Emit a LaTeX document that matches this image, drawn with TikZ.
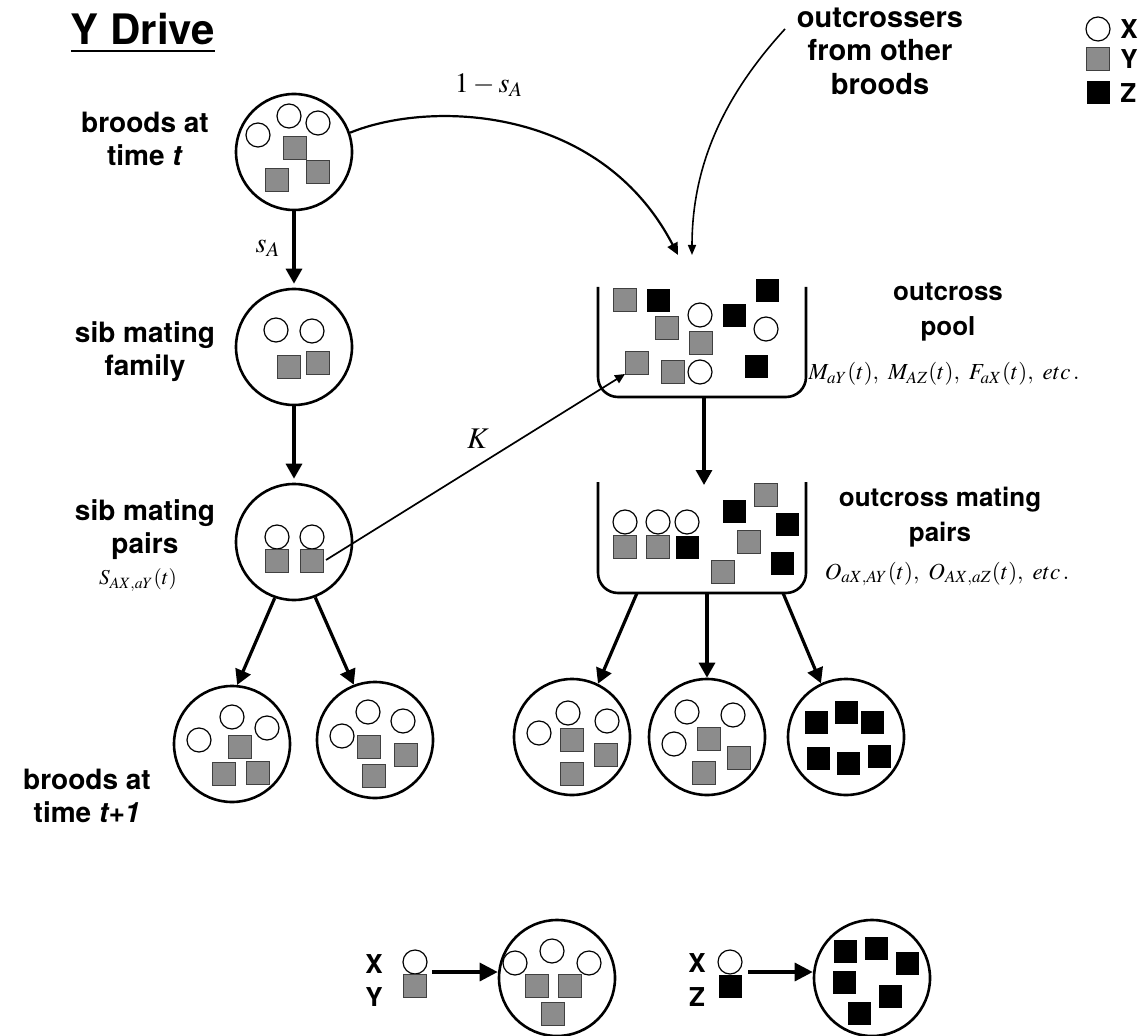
\documentclass[tikz,border=0pt]{standalone}
\usepackage{mathptmx}
\usepackage[no-math]{fontspec}
\setmainfont{TeX Gyre Heros}
\usetikzlibrary{arrows.meta}

% allele glyphs
\newcommand{\allX}[2]{\draw[line width=0.6pt] (#1,#2) circle (6pt);}
\newcommand{\allY}[2]{\draw[line width=0.5pt,draw=black!75,fill=black!45] (#1-11.5,#2-11.5) rectangle (#1+11.5,#2+11.5);}
\newcommand{\allZ}[2]{\fill (#1-11.5,#2-11.5) rectangle (#1+11.5,#2+11.5);}

\tikzset{
  brood/.style={circle,draw,line width=1.3pt,minimum size=58pt,inner sep=0pt},
  lab/.style={font=\fontsize{14}{16.5}\selectfont\bfseries,align=center},
  rlab/.style={font=\fontsize{13}{17.5}\selectfont\bfseries,align=center},
  mlab/.style={font=\fontsize{11.5}{14}\selectfont},
  big/.style={line width=1.6pt,-{Triangle[length=7.5pt,width=8pt]}},
  karrow/.style={line width=0.85pt,-{Triangle[length=5pt,width=4.5pt]}},
  arcarrow/.style={line width=1.1pt,-{Triangle[length=6pt,width=5.5pt]}},
  ocarrow/.style={line width=0.8pt,-{Triangle[length=5pt,width=4pt]}}
}

\begin{document}
\begin{tikzpicture}[x=0.5pt,y=-0.5pt]
\useasboundingbox (0,0) rectangle (1143,1036);

\node[anchor=base,inner sep=0pt,font=\fontsize{21}{24}\selectfont\bfseries] (title) at (143,45) {\underline{Y Drive}};

% left column
\node[brood] (b0) at (294,152) {};
\allX{258}{135} \allX{289}{116} \allX{318}{123}
\allY{295}{148} \allY{318}{172} \allY{277}{180}
\node[lab] (lb0) at (145,139) {broods at\\time \textit{t}};

\node[brood] (fam) at (294,347) {};
\allX{276}{330} \allX{312}{331}
\allY{289}{367} \allY{318}{363}
\node[lab] (lfam) at (145,352) {sib mating\\family};

\node[brood] (sp) at (294,542) {};
\allX{277}{537} \allX{312}{537}
\allY{277}{561} \allY{312}{561}
\node[lab] (lsp) at (145,530) {sib mating\\pairs};
\node[mlab,font=\fontsize{10.6}{12}\selectfont] (ssp) at (138,580) {$S_{AX,aY}(t)$};

\draw[big,shorten >=2pt] (b0) -- (fam);
\node[mlab,font=\fontsize{14}{16}\selectfont] (sa) at (268,248) {$s_A$};
\draw[big,shorten >=2pt] (fam) -- (sp);

% outcross pool
\draw[line width=1.3pt,rounded corners=10pt] (598,287) -- (598,397) -- (806,397) -- (806,287);
\allY{625}{300} \allZ{658}{301} \allY{667}{328} \allX{700}{315}
\allY{701}{343} \allZ{734}{316} \allZ{767}{291} \allX{766}{329}
\allY{637}{363} \allY{673}{372} \allX{700}{372} \allZ{756}{367}
\node[rlab] (lpool) at (948,312) {outcross\\pool};
\node[mlab] (mpool) at (944,374) {$M_{aY}(t),\ M_{AZ}(t),\ F_{aX}(t),\ etc\,.$};

% outcross mating pairs
\draw[line width=1.3pt,rounded corners=10pt] (598,482) -- (598,593) -- (806,593) -- (806,482);
\allX{625}{522} \allX{658}{522} \allX{687}{522}
\allY{625}{547} \allY{658}{547} \allZ{687}{547}
\allZ{734}{511} \allY{766}{495} \allZ{787}{524}
\allY{749}{542} \allY{723}{572} \allZ{782}{563}
\node[rlab] (lpair) at (940,517) {outcross mating\\pairs};
\node[mlab] (mpair) at (947,574) {$O_{aX,AY}(t),\ O_{AX,aZ}(t),\ etc\,.$};

\coordinate (poolbot) at (704,397);
\coordinate (pairtop) at (704,485);
\draw[big] (poolbot) -- (pairtop);

% into the pool
\coordinate (poolin) at (678,255);
\draw[arcarrow] (b0.19) .. controls (430,100) and (600,105) .. (poolin);
\node[mlab,font=\fontsize{14}{16}\selectfont] (oneminus) at (489,85) {$1-s_A$};

\node[lab,font=\fontsize{14.5}{16.8}\selectfont\bfseries] (loc) at (880,51) {outcrossers\\from other\\broods};
\coordinate (ocstart) at (785,29);
\coordinate (ocin) at (692,255);
\draw[ocarrow] (ocstart) .. controls (720,100) and (692,170) .. (ocin);

\coordinate (kfrom) at (326,560);
\coordinate (kto) at (625,374);
\draw[karrow] (kfrom) -- (kto);
\node[mlab,font=\fontsize{15}{17}\selectfont] (klab) at (478,439) {$K$};

% broods at t+1
\node[brood] (c1) at (232,744) {};
\allX{199}{740} \allX{232}{717} \allX{267}{728}
\allY{240}{747} \allY{224}{774} \allY{258}{773}
\node[brood] (c2) at (375,740) {};
\allX{342}{736} \allX{368}{712} \allX{403}{721}
\allY{369}{747} \allY{406}{755} \allY{374}{776}
\node[brood] (c3) at (572,737) {};
\allX{539}{733} \allX{568}{713} \allX{607}{721}
\allY{572}{740} \allY{606}{755} \allY{572}{774}
\node[brood] (c4) at (707,737) {};
\allX{687}{712} \allX{733}{715} \allX{674}{744}
\allY{709}{739} \allY{739}{758} \allY{704}{773}
\node[brood] (c5) at (846,737) {};
\allZ{816}{722} \allZ{846}{712} \allZ{872}{722}
\allZ{818}{758} \allZ{848}{763} \allZ{879}{756}
\node[lab] (lt1) at (87,796) {broods at\\time \textit{t+1}};

\draw[big] (sp.-109) -- (c1.85);
\draw[big] (sp.-69) -- (c2.111);
\coordinate (pb1) at (637,593);
\coordinate (pb2) at (707,593);
\coordinate (pb3) at (783,593);
\draw[big] (pb1) -- (c3.64);
\draw[big] (pb2) -- (c4.north);
\draw[big] (pb3) -- (c5.115);

% legend
\allX{1098}{29} \allY{1098}{59} \allZ{1098}{93}
\node[rlab,anchor=west,inner sep=0pt] (lx) at (1120,29) {X};
\node[rlab,anchor=west,inner sep=0pt] (ly) at (1120,59) {Y};
\node[rlab,anchor=west,inner sep=0pt] (lz) at (1120,93) {Z};

% drive examples
\node[rlab] (gx1) at (374,964) {X};
\node[rlab] (gy1) at (374,997) {Y};
\allX{415}{962} \allY{415}{986}
\coordinate (xy) at (432,972);
\node[brood] (lg1) at (557,978) {};
\allX{515}{963} \allX{552}{951} \allX{589}{963}
\allY{537}{986} \allY{570}{986} \allY{553}{1014}
\draw[big,-{Triangle[length=9pt,width=9pt]}] (xy) -- (xy -| lg1.west);

\node[rlab] (gx2) at (697,963) {X};
\node[rlab] (gz2) at (697,997) {Z};
\allX{730}{962} \allZ{730}{986}
\coordinate (xz) at (748,972);
\node[brood] (lg2) at (872,978) {};
\allZ{845}{951} \allZ{876}{948} \allZ{907}{963}
\allZ{844}{982} \allZ{890}{996} \allZ{859}{1013}
\draw[big,-{Triangle[length=9pt,width=9pt]}] (xz) -- (xz -| lg2.west);
\end{tikzpicture}
\end{document}
